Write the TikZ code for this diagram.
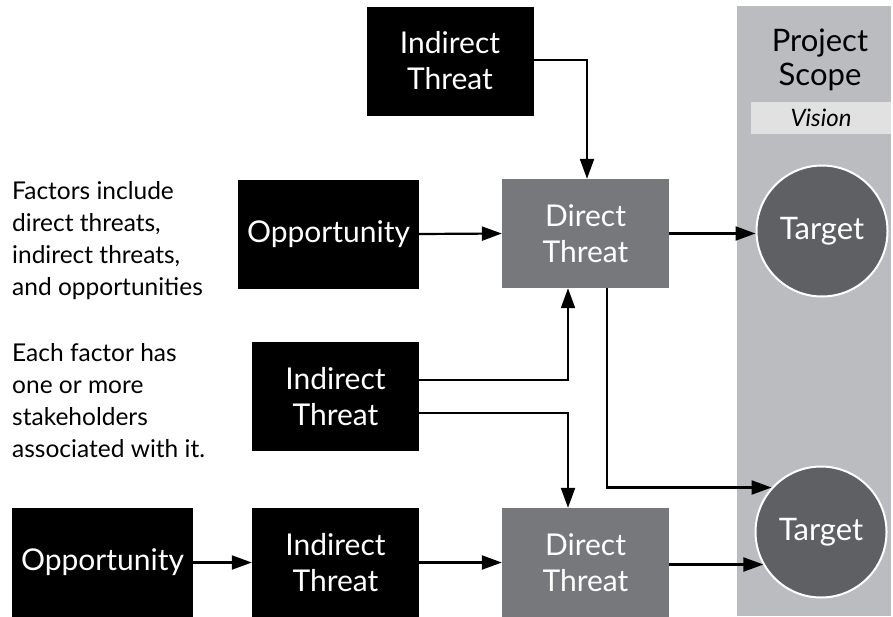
\documentclass[tikz,border=0pt]{standalone}
\usepackage{fontspec}
\setmainfont{Lato}
\usetikzlibrary{arrows.meta}
\newcommand{\pagew}{893}
\newcommand{\pageh}{616}
\definecolor{directgray}{HTML}{77787B}
\definecolor{targetgray}{HTML}{5F6063}
\definecolor{scopegray}{HTML}{BBBCC0}
\definecolor{visiongray}{HTML}{E1E1E2}
\tikzset{
  factor/.style={rectangle, fill=black, text=white, align=center,
    minimum width=167pt, minimum height=109pt, inner sep=0pt,
    font=\fontsize{30}{36}\selectfont},
  direct/.style={factor, fill=directgray},
  target/.style={circle, fill=targetgray, draw=white, line width=2pt,
    text=white, minimum size=131pt, inner sep=0pt,
    font=\fontsize{31}{36}\selectfont},
  note/.style={anchor=north west, align=left, inner sep=0pt,
    font=\fontsize{24.5}{32}\selectfont},
  arr/.style={line width=2.2pt, -{Triangle[length=20pt,width=14pt]}}
}
\begin{document}
\begin{tikzpicture}[x=1pt, y=-1pt]
    \useasboundingbox[fill=white] (0,0) rectangle (\pagew,\pageh);
    %
    % project scope column
    \fill[scopegray] (737,6) rectangle (891,\pageh);
    \node[font=\fontsize{31}{34}\selectfont, align=center] (scope) at (820,60)
        {Project\\Scope};
    \node[fill=visiongray, minimum width=140pt, minimum height=32pt,
          inner sep=0pt, font=\fontsize{24}{24}\selectfont\itshape]
        (vision) at (821,118) {Vision};

    \node[target] (t1) at (822,231) {Target};
    \node[target] (t2) at (821,532) {Target};

    % factors
    \node[factor] (itop) at (450,61) {Indirect\\Threat};
    \node[factor, minimum width=181pt] (opp1) at (328.5,234) {Opportunity};
    \node[direct] (dt1) at (585.5,233.5) {Direct\\Threat};
    \node[factor] (imid) at (335.5,396.5) {Indirect\\Threat};
    \node[factor, minimum width=181pt] (opp2) at (102.5,562.5) {Opportunity};
    \node[factor] (ibot) at (335.5,562.5) {Indirect\\Threat};
    \node[direct] (dt2) at (585.5,562.5) {Direct\\Threat};

    % notes on the left
    \node[note] (notea) at (12,181) {Factors include\\direct threats,\\
        indirect threats,\\and opportunities};
    \node[note] (noteb) at (12,343) {Each factor has\\one or more\\
        stakeholders\\associated with it.};

    % connectors
    \draw[arr] ([yshift=1pt]itop.east) -| ([xshift=1.5pt]dt1.north);
    \draw[arr] (opp1.east) -- (dt1.west);
    \draw[arr] (dt1.east) -- (dt1.east -| t1.west);
    \draw[arr] ([yshift=16.5pt]imid.east) -| ([xshift=-17.5pt]dt1.south);
    \draw[arr] ([yshift=-16.5pt]imid.east) -| ([xshift=-17.5pt]dt2.north);
    \draw[arr] ([xshift=21.5pt]dt1.south) |- (t2.138);
    \draw[arr] (opp2.east) -- (ibot.west);
    \draw[arr] (ibot.east) -- (dt2.west);
    \draw[arr] ([yshift=-2pt]dt2.east) -- ([yshift=-2pt]dt2.east -| t2.210);
\end{tikzpicture}
\end{document}
